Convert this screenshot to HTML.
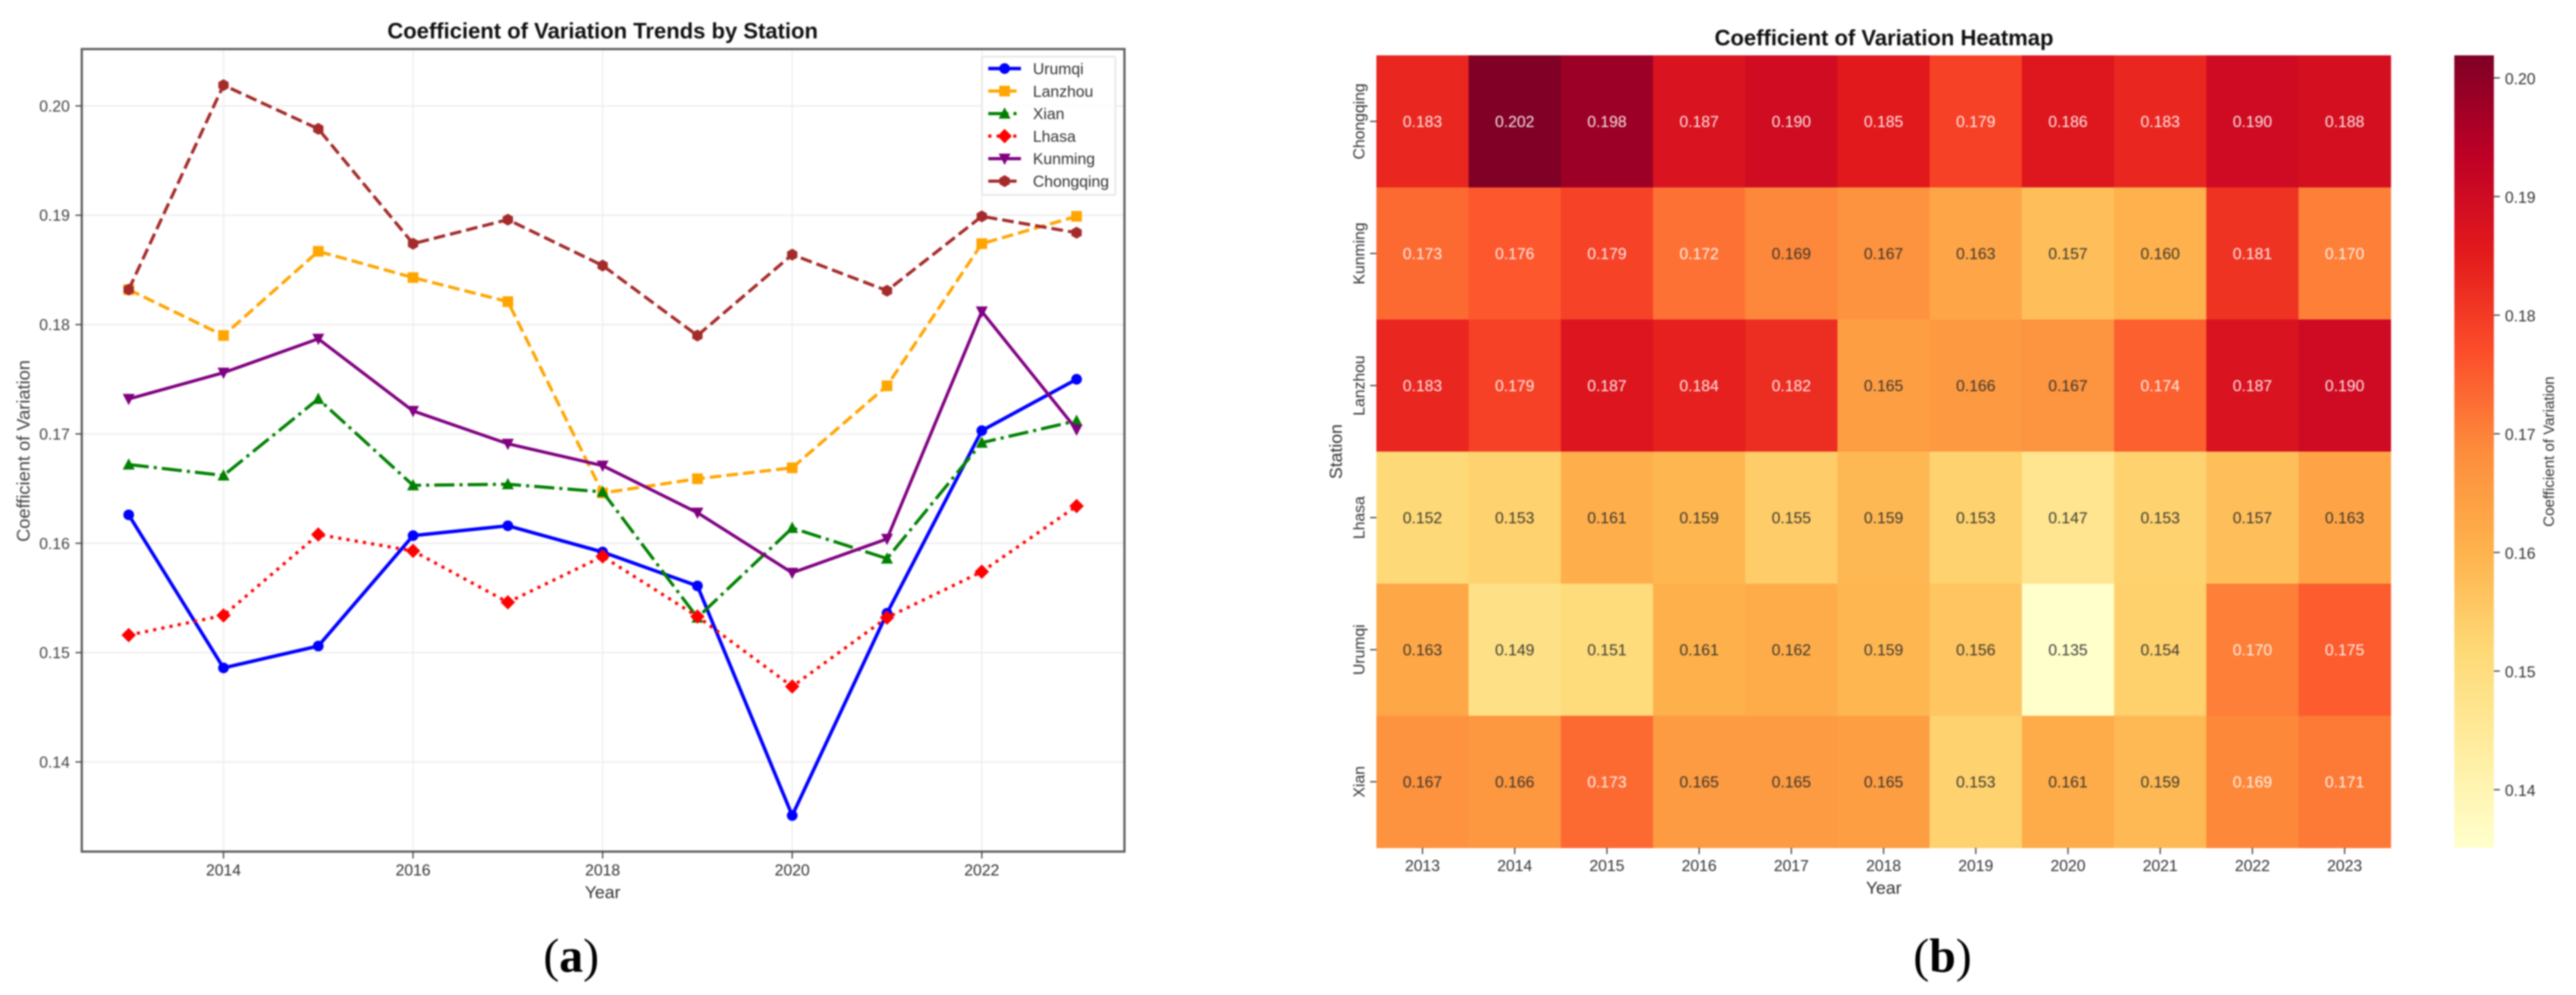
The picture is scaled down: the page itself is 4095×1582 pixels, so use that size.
<!DOCTYPE html>
<html lang="en">
<head>
<meta charset="utf-8">
<title>Coefficient of Variation Charts</title>
<style>
html,body{margin:0;padding:0;background:#fff;}
body{width:4095px;height:1582px;overflow:hidden;}
#figure{display:block;filter:blur(1.2px);}
text{font-family:"Liberation Sans",sans-serif;}
</style>
</head>
<body>
<svg id="figure" xmlns="http://www.w3.org/2000/svg" width="4095" height="1582" viewBox="0 0 4095 1582">
  <rect width="4095" height="1582" fill="#fff"/>
  <defs>
    <linearGradient id="colorbar-gradient" x1="0" y1="1" x2="0" y2="0"></linearGradient>
  </defs>

  <g id="line-chart">
    <g id="line-grid"></g>
    <g id="line-series"></g>
    <rect x="130" y="78" width="1657.5" height="1276" fill="none" stroke="#5c5c5c" stroke-width="3.5"/>
    <g id="line-ticks"></g>
    <text x="958" y="61" text-anchor="middle" font-size="35" font-weight="bold" fill="#111">Coefficient of Variation Trends by Station</text>
    <text x="958" y="1428" text-anchor="middle" font-size="28" fill="#333">Year</text>
    <text transform="translate(47,717) rotate(-90)" text-anchor="middle" font-size="29" fill="#444">Coefficient of Variation</text>
    <g id="line-legend"></g>
  </g>

  <g id="heatmap">
    <g id="heat-cells"></g>
    <g id="heat-ticks"></g>
    <text x="2995" y="72" text-anchor="middle" font-size="35" font-weight="bold" fill="#111">Coefficient of Variation Heatmap</text>
    <text x="2994.5" y="1421" text-anchor="middle" font-size="28" fill="#333">Year</text>
    <text transform="translate(2133,718) rotate(-90)" text-anchor="middle" font-size="28" fill="#333">Station</text>
    <rect x="3901.5" y="88" width="63" height="1260" fill="url(#colorbar-gradient)"/>
    <g id="colorbar-ticks"></g>
    <text transform="translate(4060,718) rotate(-90)" text-anchor="middle" font-size="24" fill="#333">Coefficient of Variation</text>
  </g>

  <text x="908" y="1545" text-anchor="middle" font-size="76" style="font-family:'Liberation Serif',serif" fill="#000">(<tspan font-weight="bold">a</tspan>)</text>
  <text x="3088" y="1545" text-anchor="middle" font-size="76" style="font-family:'Liberation Serif',serif" fill="#000">(<tspan font-weight="bold">b</tspan>)</text>
</svg>

<script>
const years = [2013, 2014, 2015, 2016, 2017, 2018, 2019, 2020, 2021, 2022, 2023];
const urumqi = [0.1626, 0.1486, 0.1506, 0.1607, 0.1616, 0.1592, 0.1561, 0.1351, 0.1536, 0.1703, 0.1750];
const lanzhou = [0.1832, 0.1790, 0.1867, 0.1843, 0.1821, 0.1646, 0.1659, 0.1669, 0.1744, 0.1874, 0.1899];
const xian = [0.1672, 0.1662, 0.1732, 0.1653, 0.1654, 0.1647, 0.1532, 0.1614, 0.1586, 0.1692, 0.1712];
const lhasa = [0.1516, 0.1534, 0.1608, 0.1593, 0.1546, 0.1588, 0.1533, 0.1469, 0.1532, 0.1574, 0.1634];
const kunming = [0.1732, 0.1756, 0.1787, 0.1721, 0.1691, 0.1671, 0.1628, 0.1573, 0.1604, 0.1812, 0.1704];
const chongqing = [0.1832, 0.2019, 0.1979, 0.1874, 0.1896, 0.1854, 0.1790, 0.1864, 0.1831, 0.1899, 0.1884];
const lineXTicks = [2014, 2016, 2018, 2020, 2022];
const lineYTicks = [0.14, 0.15, 0.16, 0.17, 0.18, 0.19, 0.20];
const colorbarTicks = [0.14, 0.15, 0.16, 0.17, 0.18, 0.19, 0.20];
const legendStations = ['Urumqi', 'Lanzhou', 'Xian', 'Lhasa', 'Kunming', 'Chongqing'];
const heatStations = ['Chongqing', 'Kunming', 'Lanzhou', 'Lhasa', 'Urumqi', 'Xian'];

const NS = 'http://www.w3.org/2000/svg';
const seriesByName = {Urumqi: urumqi, Lanzhou: lanzhou, Xian: xian, Lhasa: lhasa, Kunming: kunming, Chongqing: chongqing};
const styleByName = {
  Urumqi: {color: '#0000ff', dash: '', width: 5.5, marker: 'circle'},
  Lanzhou: {color: '#ffa500', dash: '18.5 8', width: 5, marker: 'square'},
  Xian: {color: '#008000', dash: '32 8 5 8', width: 5, marker: 'triangle-up'},
  Lhasa: {color: '#ff0000', dash: '5 8.25', width: 5, marker: 'diamond'},
  Kunming: {color: '#800080', dash: '', width: 5, marker: 'triangle-down'},
  Chongqing: {color: '#a52a2a', dash: '18.5 8', width: 5, marker: 'hexagon'}
};
const ramp = ['#ffffcc', '#ffeda0', '#fed976', '#feb24c', '#fd8d3c', '#fc4e2a', '#e31a1c', '#bd0026', '#800026'];

function make(tag, attrs, parent) {
  const node = document.createElementNS(NS, tag);
  for (const key in attrs) node.setAttribute(key, attrs[key]);
  parent.appendChild(node);
  return node;
}
function label(tag, attrs, parent, content) {
  const node = make(tag, attrs, parent);
  node.textContent = content;
  return node;
}

/* line chart axes */
const lineX = v => 130 + (v - 2012.505) / 11 * 1657.5;
const lineY = v => 1354 - (v - 0.1318) / 0.0734 * 1276;

const gridGroup = document.getElementById('line-grid');
const tickGroup = document.getElementById('line-ticks');
lineXTicks.forEach(function (year) {
  const gx = make('line', {x1: lineX(year), x2: lineX(year), y1: 78, y2: 1354, stroke: '#eeeeee', 'stroke-width': 2}, gridGroup);
  
  
  const tx = make('line', {x1: lineX(year), x2: lineX(year), y1: 1354, y2: 1365, stroke: '#444', 'stroke-width': 2}, tickGroup);
  
  
  const lx = label('text', {x: lineX(year), y: 1392, 'text-anchor': 'middle', 'font-size': 25, fill: '#333'}, tickGroup, String(year));
  
  
});
lineYTicks.forEach(function (value) {
  const gy = make('line', {x1: 130, x2: 1787.5, y1: lineY(value), y2: lineY(value), stroke: '#eeeeee', 'stroke-width': 2.5}, gridGroup);
  
  
  const ty = make('line', {x1: 120, x2: 130, y1: lineY(value), y2: lineY(value), stroke: '#444', 'stroke-width': 2}, tickGroup);
  
  
  const ly = label('text', {x: 111, y: lineY(value) + 9, 'text-anchor': 'end', 'font-size': 25, fill: '#444'}, tickGroup, value.toFixed(2));
  
  
});

function drawMarker(kind, cx, cy, color, parent) {
  let node;
  if (kind === 'circle') {
    node = make('circle', {cx: cx, cy: cy, r: 8.5, fill: color}, parent);
  } else if (kind === 'square') {
    node = make('rect', {x: cx - 8.5, y: cy - 8.5, width: 17, height: 17, fill: color}, parent);
  } else {
    let pts;
    if (kind === 'triangle-up') pts = [[0, -10], [9.5, 8], [-9.5, 8]];
    if (kind === 'triangle-down') pts = [[-9.5, -8], [9.5, -8], [0, 10]];
    if (kind === 'diamond') pts = [[0, -11.5], [11.5, 0], [0, 11.5], [-11.5, 0]];
    if (kind === 'hexagon') pts = [[0, -9.5], [8.2, -4.75], [8.2, 4.75], [0, 9.5], [-8.2, 4.75], [-8.2, -4.75]];
    const text = pts.map(p => (cx + p[0]) + ',' + (cy + p[1])).join(' ');
    node = make('polygon', {points: text, fill: color}, parent);
  }
  return node;
}

const seriesGroup = document.getElementById('line-series');
legendStations.forEach(function (name) {
  const style = styleByName[name];
  const values = seriesByName[name];
  const group = make('g', {}, seriesGroup);
  
  
  const points = values.map((v, i) => lineX(years[i]) + ',' + lineY(v)).join(' ');
  const path = make('polyline', {points: points, fill: 'none', stroke: style.color, 'stroke-width': style.width, 'stroke-dasharray': style.dash, 'stroke-linejoin': 'round'}, group);
  
  
  values.forEach(function (v, i) {
    const dot = drawMarker(style.marker, lineX(years[i]), lineY(v), style.color, group);
    
    
  });
});

/* legend */
const legendGroup = document.getElementById('line-legend');
const legendBox = make('rect', {x: 1561, y: 90, width: 212, height: 220, fill: '#ffffff', 'fill-opacity': 0.8, stroke: '#e6e6e6', 'stroke-width': 2.5, rx: 2}, legendGroup);


legendStations.forEach(function (name, i) {
  const style = styleByName[name];
  const cy = 109 + i * 35.8;
  const entry = make('g', {}, legendGroup);
  
  
  const handle = make('line', {x1: 1571, x2: 1623, y1: cy, y2: cy, stroke: style.color, 'stroke-width': style.width, 'stroke-dasharray': style.dash}, entry);
  
  
  const mark = drawMarker(style.marker, 1597, cy, style.color, entry);
  
  
  const text = label('text', {x: 1642, y: cy + 9, 'font-size': 25, fill: '#333'}, entry, name);
  
  
});

/* heatmap axes and colour scale */
const heatX = i => 2188 + i * (1612.5 / years.length);
const heatY = i => 88 + i * (1260 / heatStations.length);
const allValues = [].concat(urumqi, lanzhou, xian, lhasa, kunming, chongqing);
const vMin = Math.min.apply(null, allValues);
const vMax = Math.max.apply(null, allValues);
const colorbarY = v => 1348 - (v - vMin) / (vMax - vMin) * 1260;

function hexToRgb(hex) {
  return [parseInt(hex.substr(1, 2), 16), parseInt(hex.substr(3, 2), 16), parseInt(hex.substr(5, 2), 16)];
}
function colorFor(v) {
  const t = Math.max(0, Math.min(1, (v - vMin) / (vMax - vMin))) * (ramp.length - 1);
  const k = Math.min(ramp.length - 2, Math.floor(t));
  const a = hexToRgb(ramp[k]);
  const b = hexToRgb(ramp[k + 1]);
  const f = t - k;
  return 'rgb(' + a.map((c, n) => Math.round(c + (b[n] - c) * f)).join(',') + ')';
}

const gradient = document.getElementById('colorbar-gradient');
ramp.forEach(function (color, i) {
  make('stop', {offset: i / (ramp.length - 1), 'stop-color': color}, gradient);
});

const cellGroup = document.getElementById('heat-cells');
const heatTickGroup = document.getElementById('heat-ticks');
const cellW = 1612.5 / years.length;
const cellH = 1260 / heatStations.length;
heatStations.forEach(function (name, row) {
  seriesByName[name].forEach(function (v, col) {
    const cell = make('rect', {x: heatX(col), y: heatY(row), width: cellW + 0.5, height: cellH + 0.5, fill: colorFor(v)}, cellGroup);
    
    
  });
});
heatStations.forEach(function (name, row) {
  seriesByName[name].forEach(function (v, col) {
    const tone = v >= 0.16915 ? '#fff' : '#2a2a2a';
    const note = label('text', {x: heatX(col) + cellW / 2, y: heatY(row) + cellH / 2 + 9, 'text-anchor': 'middle', 'font-size': 25, fill: tone, 'fill-opacity': 0.9}, cellGroup, v.toFixed(3));
    
    
  });
  const rowTick = make('line', {x1: 2178, x2: 2188, y1: heatY(row) + cellH / 2, y2: heatY(row) + cellH / 2, stroke: '#444', 'stroke-width': 2}, heatTickGroup);
  
  
  const rowLabel = label('text', {transform: 'translate(2169,' + (heatY(row) + cellH / 2) + ') rotate(-90)', 'text-anchor': 'middle', 'font-size': 25, fill: '#333'}, heatTickGroup, name);
  
  
});
years.forEach(function (year, col) {
  const cx = heatX(col) + cellW / 2;
  const colTick = make('line', {x1: cx, x2: cx, y1: 1348, y2: 1358, stroke: '#444', 'stroke-width': 2}, heatTickGroup);
  
  
  const colLabel = label('text', {x: cx, y: 1385, 'text-anchor': 'middle', 'font-size': 25, fill: '#333'}, heatTickGroup, String(year));
  
  
});

const colorbarGroup = document.getElementById('colorbar-ticks');
colorbarTicks.forEach(function (value) {
  const cy = colorbarY(value);
  const barTick = make('line', {x1: 3964.5, x2: 3974, y1: cy, y2: cy, stroke: '#444', 'stroke-width': 2}, colorbarGroup);
  
  
  const barLabel = label('text', {x: 3982, y: cy + 10, 'font-size': 25, fill: '#333'}, colorbarGroup, value.toFixed(2));
  
  
});
</script>
</body>
</html>
